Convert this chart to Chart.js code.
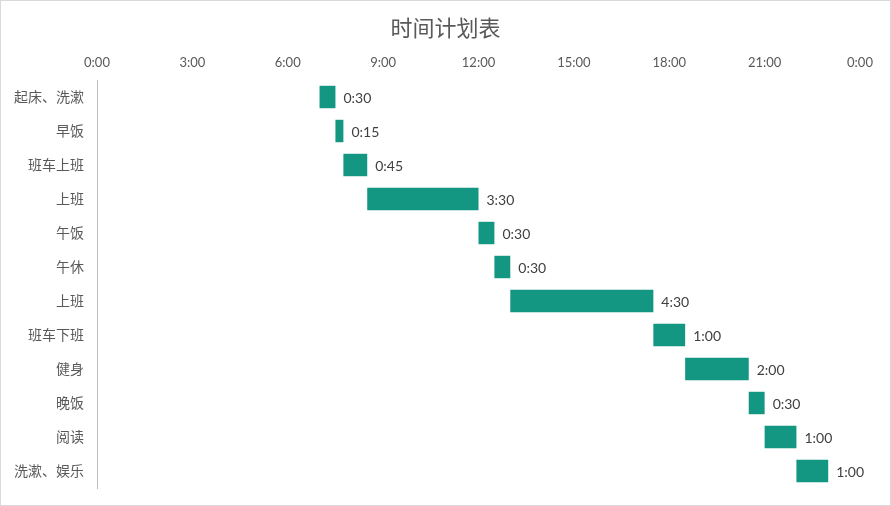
<!DOCTYPE html>
<html>
<head>
<meta charset="utf-8">
<script src="https://cdn.jsdelivr.net/npm/chart.js@4"></script>
<style>
  html, body { margin: 0; padding: 0; background: #fff; }
  #wrap { width: 891px; height: 506px; box-sizing: border-box; border: 1px solid #d9d9d9; }
</style>
</head>
<body>
<div id="wrap"><canvas id="ganttChart" width="889" height="504"></canvas></div>
<script>
// 任务、开始时间、时长
let tasks = ['起床、洗漱', '早饭', '班车上班', '上班', '午饭', '午休', '上班', '班车下班', '健身', '晚饭', '阅读', '洗漱、娱乐'];
let startTimes = ['7:00', '7:30', '7:45', '8:30', '12:00', '12:30', '13:00', '17:30', '18:30', '20:30', '21:00', '22:00'];
let durations = ['0:30', '0:15', '0:45', '3:30', '0:30', '0:30', '4:30', '1:00', '2:00', '0:30', '1:00', '1:00'];
let hourTicks = ['0:00', '3:00', '6:00', '9:00', '12:00', '15:00', '18:00', '21:00', '0:00'];
let chartTitle = '时间计划表';

function toHours(s) {
    let p = s.split(':');
    return Number(p[0]) + Number(p[1]) / 60;
}

let ranges = startTimes.map((s, i) => [toHours(s), toHours(s) + toHours(durations[i])]);

let cjk = '"Noto Sans CJK SC", "Noto Sans", sans-serif';
let numFont = 'Lato, "Noto Sans CJK SC", sans-serif';

// write the duration right of each bar, title centred on the whole canvas
let durationLabels = {
    id: 'durationLabels',
    afterDatasetsDraw(chart) {
        let c = chart.ctx;
        let meta = chart.getDatasetMeta(0);
        c.save();
        c.font = '14px ' + numFont;
        c.fillStyle = '#404040';
        c.textAlign = 'left';
        c.textBaseline = 'middle';
        meta.data.forEach((bar, i) => {
            c.fillText(durations[i], bar.x + 8, bar.y + 1);
        });
        c.font = '22px ' + cjk;
        c.fillStyle = '#595959';
        c.textAlign = 'center';
        c.fillText(chartTitle, chart.width / 2, 27);
        c.restore();
    }
};

let ctx = document.getElementById('ganttChart').getContext('2d');

let ganttChart = new Chart(ctx, {
    type: 'bar',
    data: {
        labels: tasks,
        datasets: [{
            data: ranges,
            backgroundColor: '#139682',
            borderWidth: 0,
            barPercentage: 0.66,
            categoryPercentage: 1
        }]
    },
    options: {
        indexAxis: 'y',
        responsive: false,
        maintainAspectRatio: false,
        animation: false,
        layout: { padding: { top: 49, left: 8, right: 30, bottom: 17 } },
        plugins: {
            legend: { display: false },
            tooltip: { enabled: false },
            title: { display: false }
        },
        scales: {
            x: {
                position: 'top',
                min: 0,
                max: 24,
                grid: { display: false },
                border: { display: false },
                ticks: {
                    stepSize: 3,
                    color: '#595959',
                    font: { family: numFont, size: 13 },
                    padding: 1,
                    maxRotation: 0,
                    callback: (v, i) => hourTicks[i]
                },
                afterFit: (s) => { s.height = 30; }
            },
            y: {
                grid: { display: false },
                border: { display: true, color: '#bfbfbf' },
                ticks: {
                    color: '#595959',
                    font: { family: cjk, size: 14 },
                    padding: 5
                },
                afterFit: (s) => { s.width = 88; }
            }
        }
    },
    plugins: [durationLabels]
});
</script>
</body>
</html>
